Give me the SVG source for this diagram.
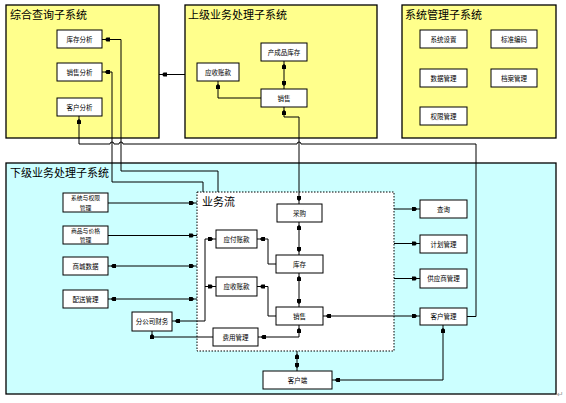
<svg xmlns="http://www.w3.org/2000/svg" width="566" height="403" viewBox="0 0 566 403">
<style>
.sys{stroke:#000;stroke-width:1.3}
.y{fill:#FFFF8C}
.c{fill:#CCFFFF}
.bx{fill:#fff;stroke:#000;stroke-width:1}
.t{font-family:"Noto Sans CJK SC","Noto Sans",sans-serif;font-size:11px;fill:#000}
.s{font-family:"Noto Sans CJK SC","Noto Sans",sans-serif;font-size:6.5px;fill:#000;text-anchor:middle}
.s2{font-size:5.8px}
.ln{fill:none;stroke:#000;stroke-width:1}
.a{marker-end:url(#m)}
.b{marker-start:url(#m)}
.ab{marker-start:url(#m);marker-end:url(#m)}
</style>
<defs>
<marker id="m" viewBox="0 -3 9 6" refX="8" refY="0" markerWidth="9" markerHeight="6" markerUnits="userSpaceOnUse" orient="auto-start-reverse">
<path d="M0,-2 L3.5,-2 L5,0 L3.5,2 L0,2 z" fill="#000"/>
</marker>
</defs>

<g id="sys-query">
<rect class="sys y" x="6" y="5" width="153" height="133"/>
<text class="t" x="10" y="19">综合查询子系统</text>
</g>
<g id="q-kc"><rect class="bx" x="57" y="30" width="45" height="18"/><text class="s" x="79.5" y="41.5">库存分析</text></g>
<g id="q-xs"><rect class="bx" x="57" y="63" width="45" height="18"/><text class="s" x="79.5" y="74.5">销售分析</text></g>
<g id="q-kh"><rect class="bx" x="57" y="98" width="45" height="18"/><text class="s" x="79.5" y="109.5">客户分析</text></g>

<g id="sys-upper">
<rect class="sys y" x="185" y="5" width="192" height="133"/>
<text class="t" x="188" y="19">上级业务处理子系统</text>
</g>
<g id="u-ccp"><rect class="bx" x="261" y="43" width="46" height="18"/><text class="s" x="284" y="54.5">产成品库存</text></g>
<g id="u-ys"><rect class="bx" x="197" y="63" width="42" height="18"/><text class="s" x="218" y="74.5">应收账款</text></g>
<g id="u-xs"><rect class="bx" x="261" y="89" width="46" height="18"/><text class="s" x="284" y="100.5">销售</text></g>

<g id="sys-admin">
<rect class="sys y" x="402" y="5" width="154" height="133"/>
<text class="t" x="405" y="19">系统管理子系统</text>
</g>
<g id="a-xtsz"><rect class="bx" x="420" y="30" width="47" height="18"/><text class="s" x="443.5" y="41.5">系统设置</text></g>
<g id="a-bzbm"><rect class="bx" x="491" y="30" width="46" height="18"/><text class="s" x="514" y="41.5">标准编码</text></g>
<g id="a-sjgl"><rect class="bx" x="420" y="69" width="47" height="18"/><text class="s" x="443.5" y="80.5">数据管理</text></g>
<g id="a-dagl"><rect class="bx" x="491" y="69" width="46" height="18"/><text class="s" x="514" y="80.5">档案管理</text></g>
<g id="a-qxgl"><rect class="bx" x="420" y="107" width="47" height="18"/><text class="s" x="443.5" y="118.5">权限管理</text></g>

<g id="sys-lower">
<rect class="sys c" x="6" y="163" width="550" height="231"/>
<text class="t" x="10" y="177">下级业务处理子系统</text>
</g>
<g id="flow">
<rect x="197" y="192" width="197" height="159" fill="#fff" stroke="#000" stroke-width="1" stroke-dasharray="1.5,1.5"/>
<text class="t" x="202" y="206">业务流</text>
</g>
<g id="l-xtqx"><rect class="bx" x="63" y="193" width="45" height="19"/><text class="s s2" x="85.5" y="200">系统与权限</text><text class="s s2" x="85.5" y="209.8">管理</text></g>
<g id="l-spjg"><rect class="bx" x="63" y="226" width="45" height="18"/><text class="s s2" x="85.5" y="232.6">商品与价格</text><text class="s s2" x="85.5" y="242.2">管理</text></g>
<g id="l-scsj"><rect class="bx" x="63" y="257" width="45" height="18"/><text class="s" x="85.5" y="268.5">商城数据</text></g>
<g id="l-psgl"><rect class="bx" x="63" y="290" width="45" height="18"/><text class="s" x="85.5" y="301.5">配送管理</text></g>
<g id="l-fgscw"><rect class="bx" x="132" y="312" width="40" height="19"/><text class="s" x="152" y="324">分公司财务</text></g>
<g id="f-yfzk"><rect class="bx" x="216" y="230" width="41" height="18"/><text class="s" x="236.5" y="241.5">应付账款</text></g>
<g id="f-yszk"><rect class="bx" x="216" y="277" width="41" height="19"/><text class="s" x="236.5" y="289">应收账款</text></g>
<g id="f-fygl"><rect class="bx" x="213" y="328" width="45" height="18"/><text class="s" x="235.5" y="339.5">费用管理</text></g>
<g id="f-cg"><rect class="bx" x="277" y="204" width="45" height="18"/><text class="s" x="299.5" y="215.5">采购</text></g>
<g id="f-kc"><rect class="bx" x="276" y="255" width="47" height="18"/><text class="s" x="299.5" y="266.5">库存</text></g>
<g id="f-xs"><rect class="bx" x="276" y="307" width="47" height="18"/><text class="s" x="299.5" y="318.5">销售</text></g>
<g id="l-khd"><rect class="bx" x="263" y="371" width="69" height="18"/><text class="s" x="297.5" y="382.5">客户端</text></g>
<g id="r-cx"><rect class="bx" x="420" y="200" width="47" height="18"/><text class="s" x="443.5" y="211.5">查询</text></g>
<g id="r-jhgl"><rect class="bx" x="420" y="235" width="47" height="18"/><text class="s" x="443.5" y="246.5">计划管理</text></g>
<g id="r-gysgl"><rect class="bx" x="420" y="269" width="47" height="19"/><text class="s" x="443.5" y="281">供应商管理</text></g>
<g id="r-khgl"><rect class="bx" x="420" y="308" width="47" height="17"/><text class="s" x="443.5" y="319">客户管理</text></g>

<g id="connectors" class="ln">
<path class="b" d="M102,39.5 H121 V171 H218 V192"/>
<path class="b" d="M102,72 H112 V182 H203 V192"/>
<path class="b" d="M79,116 V144 H110 a2,2 0 0 1 4,0 H119 a2,2 0 0 1 4,0 H297 a2,2 0 0 1 4,0 H476 V316.5 H467"/>
<path class="b" d="M159,74.5 H185"/>
<path class="ab" d="M284,61 V89"/>
<path class="a" d="M261,98 H218 V81"/>
<path class="ab" d="M284,107 V117 H299 V204"/>
<path class="ab" d="M299,222 V255"/>
<path class="ab" d="M299,273 V307"/>
<path class="a" d="M276,264 H268 V239 H257"/>
<path class="a" d="M276,316 H268 V286.5 H257"/>
<path class="ab" d="M299,325 V337 H258"/>
<path class="a" d="M213,337 H152 V331"/>
<path class="ab" d="M172,321 H205 V239 H216"/>
<path class="a" d="M205,286.5 H216"/>
<path class="a" d="M108,203 H197"/>
<path class="a" d="M108,235.5 H197"/>
<path class="ab" d="M108,266 H197"/>
<path class="ab" d="M108,299 H197"/>
<path class="a" d="M394,209 H420"/>
<path class="a" d="M394,243.5 H420"/>
<path class="a" d="M394,278.5 H420"/>
<path class="ab" d="M323,316 H420"/>
<path class="ab" d="M297,351 V371"/>
<path class="ab" d="M332,380 H443 V325"/>
</g>
<text x="557" y="397" font-family="DejaVu Sans, sans-serif" font-size="8" fill="#999">↵</text>
</svg>
